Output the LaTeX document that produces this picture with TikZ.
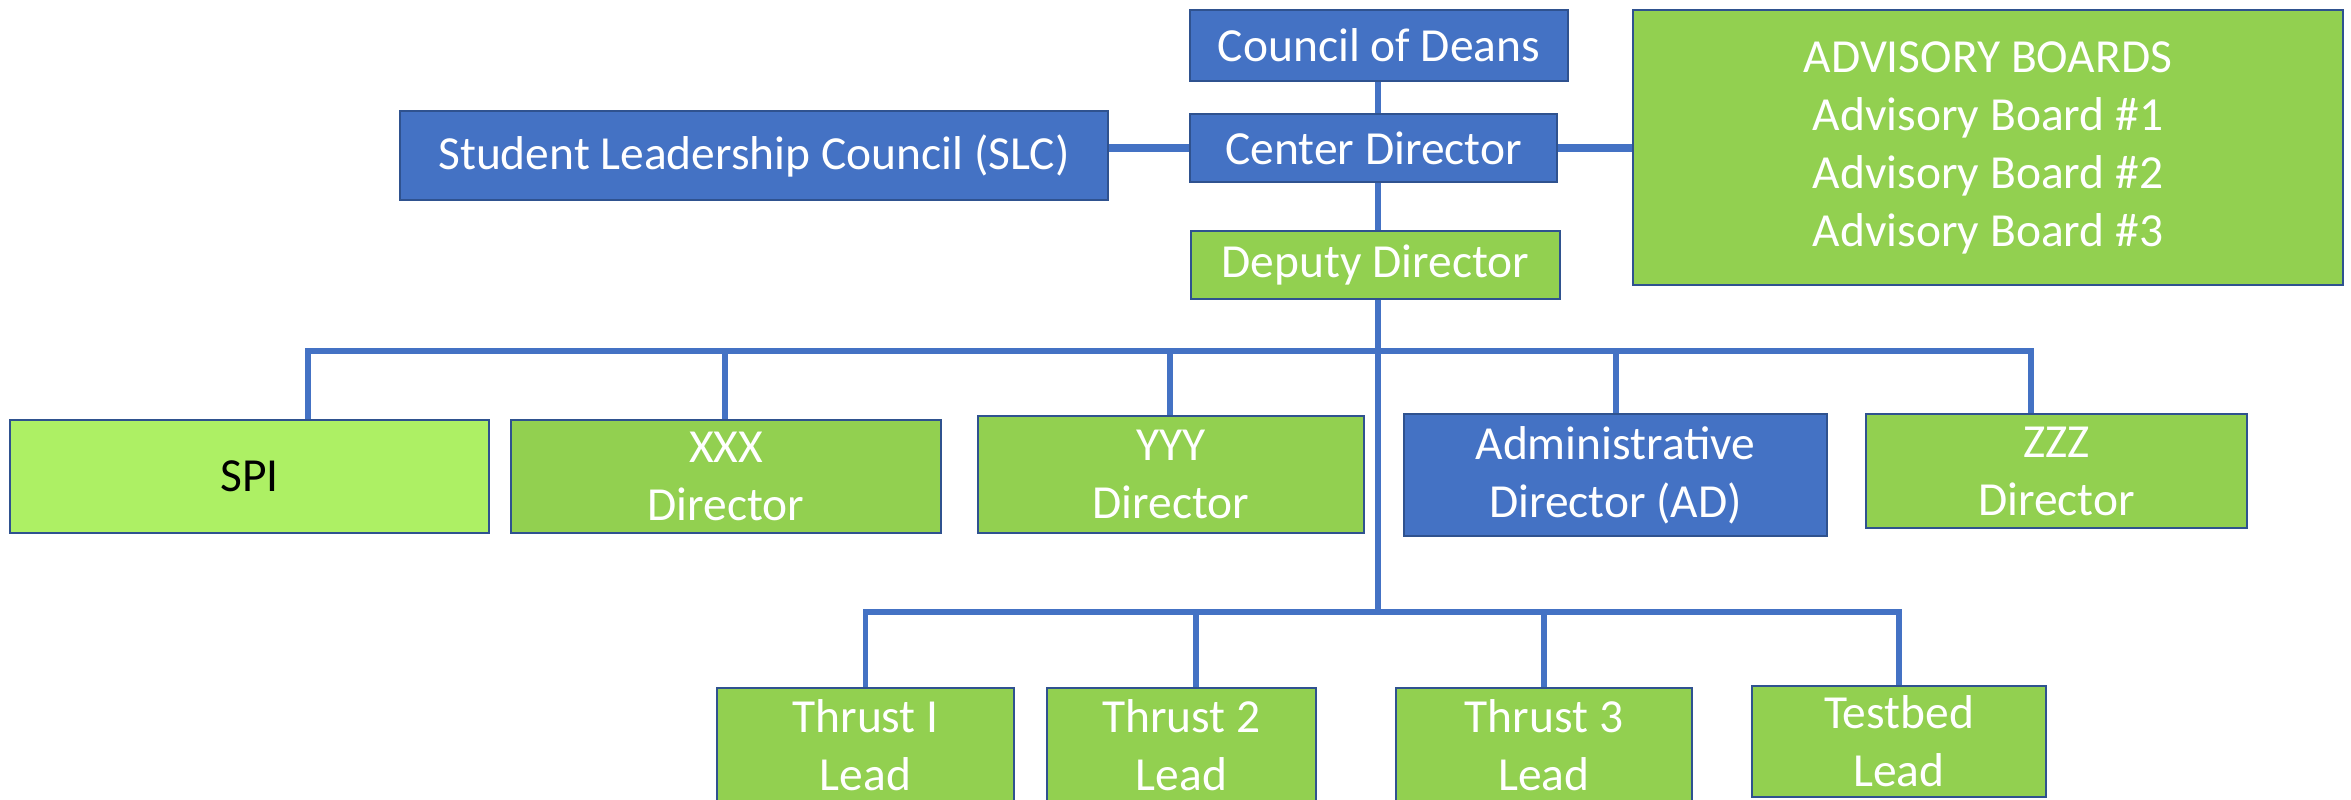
\documentclass[tikz,border=0pt]{standalone}
\usepackage{fontspec}
\setmainfont{Carlito}
\definecolor{cblue}{HTML}{4472C4}
\definecolor{cgreen}{HTML}{92D050}
\definecolor{clight}{HTML}{ADF064}
\definecolor{cbord}{HTML}{2F528F}
\begin{document}
\begin{tikzpicture}[x=0.01cm,y=-0.01cm,
  box/.style={draw=cbord, line width=0.8pt, inner sep=0pt, align=center, text=white,
    font=\fontsize{13.5pt}{16.5pt}\selectfont},
  bluebox/.style={box, fill=cblue},
  greenbox/.style={box, fill=cgreen},
  conn/.style={draw=cblue, line width=1.7pt},
  sideconn/.style={draw=cblue, line width=2.3pt}]
\useasboundingbox (0,0) rectangle (2351,799);
\clip (0,0) rectangle (2351,799);

% bus junctions
\coordinate (b1) at (1378,351);
\coordinate (b2) at (1378,612);

% top column
\node[bluebox, minimum width=378*0.01cm, minimum height=71*0.01cm] (deans) at (1379,45.5) {Council of Deans};
\node[bluebox, minimum width=367*0.01cm, minimum height=68*0.01cm] (center) at (1373.5,148) {Center Director};
\node[greenbox, minimum width=369*0.01cm, minimum height=68*0.01cm] (deputy) at (1375.5,265) {Deputy Director};

\draw[conn] (deans.south -| b1) -- (center.north -| b1);
\draw[conn] (center.south -| b1) -- (deputy.north -| b1);
\draw[conn] (deputy.south -| b1) -- (b2);

\node[bluebox, minimum width=708*0.01cm, minimum height=89*0.01cm] (slc) at (754,155.5) {Student Leadership Council (SLC)};
\node[greenbox, minimum width=710*0.01cm, minimum height=275*0.01cm] (adv) at (1988,147.5)
  {ADVISORY BOARDS\\Advisory Board \#1\\Advisory Board \#2\\Advisory Board \#3};

\draw[sideconn] (slc.east |- center.west) -- (center.west);
\draw[sideconn] (center.east) -- (adv.west |- center.east);

% second row
\node[greenbox, fill=clight, text=black, minimum width=479*0.01cm, minimum height=113*0.01cm] (spi) at (249.5,476.5) {SPI};
\node[greenbox, minimum width=430*0.01cm, minimum height=113*0.01cm] (xxx) at (726,476.5) {XXX\\Director};
\node[greenbox, minimum width=386*0.01cm, minimum height=117*0.01cm] (yyy) at (1171,474.5) {YYY\\Director};
\node[bluebox, minimum width=423*0.01cm, minimum height=122*0.01cm] (adm) at (1615.5,475) {Administrative\\Director (AD)};
\node[greenbox, minimum width=381*0.01cm, minimum height=114*0.01cm] (zzz) at (2056.5,471) {ZZZ\\Director};

\draw[conn] ([xshift=0.585cm]spi.north) |- (b1);
\draw[conn] ([xshift=-0.01cm]xxx.north) |- (b1);
\draw[conn] ([xshift=-0.01cm]yyy.north) |- (b1);
\draw[conn] (adm.north) |- (b1);
\draw[conn] ([xshift=-0.255cm]zzz.north) |- (b1);

% third row
\node[greenbox, minimum width=297*0.01cm, minimum height=114*0.01cm] (t1) at (865.5,745) {Thrust I\\Lead};
\node[greenbox, minimum width=269*0.01cm, minimum height=114*0.01cm] (t2) at (1181.5,745) {Thrust 2\\Lead};
\node[greenbox, minimum width=296*0.01cm, minimum height=114*0.01cm] (t3) at (1544,745) {Thrust 3\\Lead};
\node[greenbox, minimum width=294*0.01cm, minimum height=111*0.01cm] (tb) at (1899,741.5) {Testbed\\Lead};

\draw[conn] (t1.north) |- (b2);
\draw[conn] ([xshift=0.145cm]t2.north) |- (b2);
\draw[conn] (t3.north) |- (b2);
\draw[conn] (tb.north) |- (b2);
\end{tikzpicture}
\end{document}
